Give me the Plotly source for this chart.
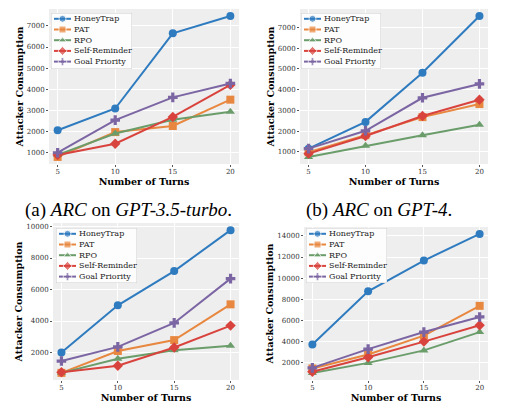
import plotly.graph_objects as go

turns = [5, 10, 15, 20]
methods = ['HoneyTrap', 'PAT', 'RPO', 'Self-Reminder', 'Goal Priority']
colors = ['#2f7bbf', '#e8873f', '#6b9d6b', '#d9433d', '#7b65a3']
symbols = ['circle', 'square', 'triangle-up', 'diamond', 'cross']

# panel 1 (top left)
p1_honeytrap = [2050, 3080, 6650, 7470]
p1_pat = [780, 1960, 2250, 3500]
p1_rpo = [880, 1890, 2550, 2930]
p1_selfrem = [870, 1410, 2680, 4200]
p1_goal = [980, 2530, 3610, 4270]

# panel 2 (top right)
p2_honeytrap = [1160, 2450, 4820, 7550]
p2_pat = [990, 1810, 2680, 3310]
p2_rpo = [760, 1300, 1810, 2310]
p2_selfrem = [920, 1770, 2730, 3520]
p2_goal = [1160, 2020, 3610, 4280]

# panel 3 (bottom left)
p3_honeytrap = [2000, 5000, 7170, 9770]
p3_pat = [710, 2100, 2790, 5060]
p3_rpo = [710, 1610, 2150, 2430]
p3_selfrem = [750, 1160, 2320, 3710]
p3_goal = [1460, 2360, 3880, 6690]

# panel 4 (bottom right)
p4_honeytrap = [3740, 8760, 11670, 14180]
p4_pat = [1470, 2800, 4570, 7390]
p4_rpo = [1040, 2000, 3180, 4910]
p4_selfrem = [1160, 2530, 4010, 5560]
p4_goal = [1530, 3300, 4910, 6340]

panels = [
    [p1_honeytrap, p1_pat, p1_rpo, p1_selfrem, p1_goal],
    [p2_honeytrap, p2_pat, p2_rpo, p2_selfrem, p2_goal],
    [p3_honeytrap, p3_pat, p3_rpo, p3_selfrem, p3_goal],
    [p4_honeytrap, p4_pat, p4_rpo, p4_selfrem, p4_goal],
]

# the page body has an 8px margin, so the figure is shifted by that much
OFF = 8
FW, FH = 530 - OFF, 409 - OFF


def px(x):
    return (x - OFF) / FW


def py(y):
    return 1 - (y - OFF) / FH


# plot areas in page pixels: left, right, top, bottom
boxes = [(49, 239, 9, 164), (300, 488, 9, 164), (53, 239, 223, 380), (304, 488, 227, 380)]
# legend boxes: left, top, width, height
legboxes = [(51, 13, 81, 56), (301, 13, 80, 56), (56, 228, 81, 55), (306, 228, 81, 55)]
ydticks = [1000, 1000, 2000, 2000]

serif = 'DejaVu Serif'
fig = go.Figure()

for i, series in enumerate(panels):
    n = '' if i == 0 else str(i + 1)
    for name, vals, c, s in zip(methods, series, colors, symbols):
        fig.add_trace(go.Scatter(
            x=turns, y=vals, name=name, mode='lines+markers',
            line=dict(color=c, width=2),
            marker=dict(symbol=s, size=8, color=c),
            xaxis='x' + n, yaxis='y' + n, showlegend=False,
        ))
    l, r, t, b = boxes[i]
    allv = [v for s in series for v in s]
    lo, hi = min(allv), max(allv)
    pad = (hi - lo) * 0.05
    ax = dict(
        domain=[px(l), px(r)], anchor='y' + n,
        range=[4.25, 20.75], tickvals=turns,
        showgrid=True, gridcolor='white', gridwidth=1, zeroline=False,
        ticks='outside', ticklen=2, tickcolor='#555555', ticklabelstandoff=-1,
        tickfont=dict(family=serif, size=7, color='#333333'),
        title=dict(text='<b>Number of Turns</b>', standoff=1,
                   font=dict(family=serif, size=9.5, color='black')),
    )
    ay = dict(
        domain=[py(b), py(t)], anchor='x' + n,
        range=[lo - pad, hi + pad], dtick=ydticks[i], tick0=0, tickformat='d',
        showgrid=True, gridcolor='white', gridwidth=1, zeroline=False,
        ticks='outside', ticklen=2, tickcolor='#555555',
        tickfont=dict(family=serif, size=7, color='#333333'),
        title=dict(text='<b>Attacker Consumption</b>', standoff=1,
                   font=dict(family=serif, size=9.5, color='black')),
    )
    fig.update_layout({'xaxis' + n: ax, 'yaxis' + n: ay})

    # legend drawn in its own small pixel-scaled subplot
    k = str(i + 5)
    ll, lt, lw, lh = legboxes[i]
    fig.update_layout({
        'xaxis' + k: dict(domain=[px(ll), px(ll + lw)], range=[0, lw], anchor='y' + k,
                          visible=False, fixedrange=True),
        'yaxis' + k: dict(domain=[py(lt + lh), py(lt)], range=[lh, 0], anchor='x' + k,
                          visible=False, fixedrange=True),
    })
    fig.add_shape(type='rect', xref='x' + k, yref='y' + k, x0=0, x1=lw, y0=0, y1=lh,
                  fillcolor='rgba(255,255,255,0.85)', line=dict(color='#cccccc', width=1),
                  layer='between')
    for j, (name, c, s) in enumerate(zip(methods, colors, symbols)):
        row = 5.8 + 10.7 * j
        fig.add_trace(go.Scatter(
            x=[3, 11.5, 20], y=[row, row, row], mode='lines+markers',
            line=dict(color=c, width=2), marker=dict(symbol=s, size=[0, 7, 0], color=c),
            xaxis='x' + k, yaxis='y' + k, showlegend=False, hoverinfo='skip',
        ))
        fig.add_annotation(text=name, x=22, y=row, xref='x' + k, yref='y' + k,
                           xanchor='left', yanchor='middle', showarrow=False,
                           borderpad=0, font=dict(family=serif, size=8, color='#222222'))

cap = dict(family='Liberation Serif', size=19, color='black')
fig.add_annotation(text='(a) <i>ARC</i> on <i>GPT-3.5-turbo</i>.', x=px(128), y=py(210),
                   xref='paper', yref='paper', xanchor='center', yanchor='middle',
                   showarrow=False, font=cap)
fig.add_annotation(text='(b) <i>ARC</i> on <i>GPT-4</i>.', x=px(379), y=py(210),
                   xref='paper', yref='paper', xanchor='center', yanchor='middle',
                   showarrow=False, font=cap)

fig.update_layout(
    width=FW, height=FH, margin=dict(l=0, r=0, t=0, b=0),
    paper_bgcolor='white', plot_bgcolor='#eeeeee',
)

fig.write_html("out.html")
